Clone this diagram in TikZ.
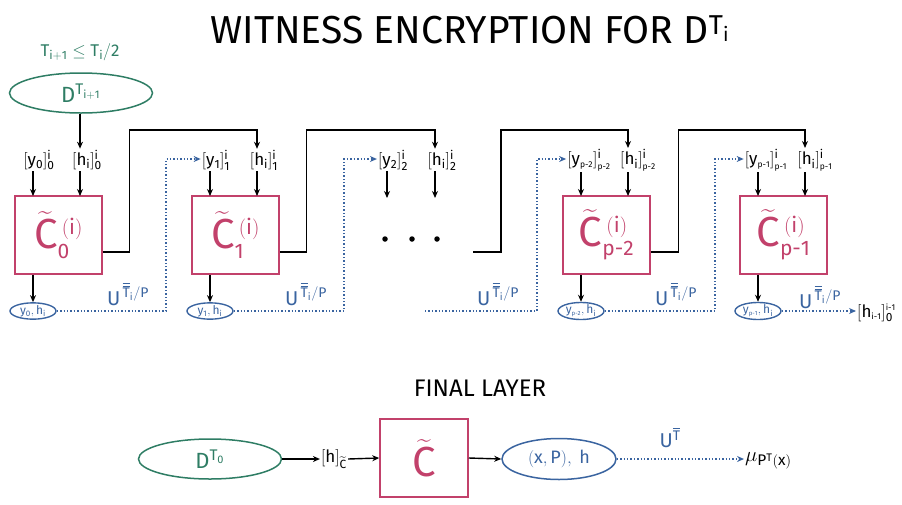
\documentclass[tikz,border=0pt]{standalone}
\usepackage{amsmath}
\usepackage{fontspec}
\setmainfont{Fira Sans}
\setsansfont{Fira Sans}
\usetikzlibrary{arrows.meta,calc,shapes.geometric}
\definecolor{grn}{HTML}{2E7D64}
\definecolor{pnk}{HTML}{C2416B}
\definecolor{blu}{HTML}{3A64A0}
\newcommand{\ms}[1]{\mathsf{#1}}
\newcommand{\sst}{\scriptscriptstyle}
\newcommand{\Ct}[1]{$\widetilde{\ms C}^{\,\sst(\ms i)}_{\sst #1}$}
\newcommand{\Ub}{$\ms U^{\,\overline{\overline{\ms T}}_{\ms i}/\ms P}$}
\begin{document}
\begin{tikzpicture}[x=1pt,y=-1pt,
  arr/.style={draw=black,line width=1.4pt,-{Stealth[length=7pt,width=6pt]}},
  dot/.style={draw=blu,line width=1.4pt,dotted,-{Stealth[length=7pt,width=6pt]}},
  cbox/.style={draw=pnk,line width=1.5pt,minimum width=87pt,minimum height=78pt,inner sep=0pt,text=pnk,font=\fontsize{42}{42}\selectfont},
  oval/.style={draw=blu,ellipse,line width=1.4pt,minimum width=46pt,minimum height=15pt,inner sep=0pt,text=blu,font=\fontsize{12}{12}\selectfont},
  goval/.style={draw=grn,ellipse,line width=1.5pt,minimum width=143pt,minimum height=40pt,inner sep=0pt,text=grn,font=\fontsize{22}{22}\selectfont},
  lbl/.style={font=\fontsize{17}{17}\selectfont,inner sep=1pt},
  ulbl/.style={text=blu,font=\fontsize{20}{20}\selectfont,inner sep=0pt},
  dotn/.style={circle,fill=black,inner sep=0pt,minimum size=5.5pt},
]
\useasboundingbox (0,0) rectangle (902,504);

% title
\node[font=\fontsize{39}{39}\selectfont] (title) at (470,30) {WITNESS ENCRYPTION FOR D$^{\ms{T_i}}$};

% condition and distribution
\node[text=grn,font=\fontsize{17}{17}\selectfont] (cond) at (80,52) {$\ms{T_{i+1}} \le \ms{T_i}/\ms{2}$};
\node[goval] (dT) at (81,93) {$\ms{D}^{\ms{T_{i+1}}}$};

% ---- column 0
\node[cbox] (b0) at (58.5,235) {\Ct{\ms 0}};
\node[lbl] (y0) at (39,160) {$[\ms{y_0}]^{\ms i}_{\ms 0}$};
\node[lbl] (h0) at (87,160) {$[\ms{h_i}]^{\ms i}_{\ms 0}$};
\coordinate (b0a) at (33,196);
\coordinate (b0b) at (80,196);
\node[oval] (e0) at (33,311) {$\ms{y_0},\ms{h_i}$};
\draw[arr] (y0.south -| b0a) -- (b0a);
\draw[arr] (h0.south -| b0b) -- (b0b);
\draw[arr] (dT.south -| b0b) -- (h0.north -| b0b);
\draw[arr] (b0.south -| e0) -- (e0.north);

% ---- column 1
\node[cbox] (b1) at (235.5,235) {\Ct{\ms 1}};
\node[lbl] (y1) at (216,160) {$[\ms{y_1}]^{\ms i}_{\ms 1}$};
\node[lbl] (h1) at (264,160) {$[\ms{h_i}]^{\ms i}_{\ms 1}$};
\coordinate (b1a) at (210,196);
\coordinate (b1b) at (257,196);
\node[oval] (e1) at (210,311) {$\ms{y_1},\ms{h_i}$};
\draw[arr] (y1.south -| b1a) -- (b1a);
\draw[arr] (h1.south -| b1b) -- (b1b);
\draw[arr] (b1.south -| e1) -- (e1.north);

% ---- column 2 (no box)
\node[lbl] (y2) at (393,160) {$[\ms{y_2}]^{\ms i}_{\ms 2}$};
\node[lbl] (h2) at (442,160) {$[\ms{h_i}]^{\ms i}_{\ms 2}$};
\coordinate (b2a) at (387,198);
\coordinate (b2b) at (435,198);
\draw[arr] (y2.south -| b2a) -- (b2a);
\draw[arr] (h2.south -| b2b) -- (b2b);
\node[dotn] (dA) at (385,239) {};
\node[dotn] (dB) at (412,239) {};
\node[dotn] (dC) at (437,239) {};

% ---- column p-2
\node[cbox] (b3) at (606.5,235) {\Ct{\ms{p\text{-}2}}};
\node[lbl] (y3) at (589,160) {$[\ms{y}_{\sst\ms{p\text{-}2}}]^{\ms i}_{\sst\ms{p\text{-}2}}$};
\node[lbl] (h3) at (638,160) {$[\ms{h_i}]^{\ms i}_{\sst\ms{p\text{-}2}}$};
\coordinate (b3a) at (581,196);
\coordinate (b3b) at (628,196);
\node[oval] (e3) at (581,311) {$\ms{y}_{\sst\ms{p\text{-}2}},\ms{h_i}$};
\draw[arr] (y3.south -| b3a) -- (b3a);
\draw[arr] (h3.south -| b3b) -- (b3b);
\draw[arr] (b3.south -| e3) -- (e3.north);

% ---- column p-1
\node[cbox] (b4) at (783.5,235) {\Ct{\ms{p\text{-}1}}};
\node[lbl] (y4) at (766,160) {$[\ms{y}_{\sst\ms{p\text{-}1}}]^{\ms i}_{\sst\ms{p\text{-}1}}$};
\node[lbl] (h4) at (815,160) {$[\ms{h_i}]^{\ms i}_{\sst\ms{p\text{-}1}}$};
\coordinate (b4a) at (758,196);
\coordinate (b4b) at (805,196);
\node[oval] (e4) at (758,311) {$\ms{y}_{\sst\ms{p\text{-}1}},\ms{h_i}$};
\draw[arr] (y4.south -| b4a) -- (b4a);
\draw[arr] (h4.south -| b4b) -- (b4b);
\draw[arr] (b4.south -| e4) -- (e4.north);

\node[lbl,anchor=west] (hout) at (856,313) {$[\ms{h}_{\sst\ms{i\text{-}1}}]^{\sst\ms{i\text{-}1}}_{\ms 0}$};

% black chain connectors
\coordinate (t1) at (257,130);
\coordinate (t2) at (435,130);
\coordinate (t3) at (628,130);
\coordinate (t4) at (805,130);
\coordinate (s3) at (473,252);
\draw[arr] ([yshift=-17pt]b0.east) -- ++(27,0) |- (t1) -- (h1.north -| t1);
\draw[arr] ([yshift=-17pt]b1.east) -- ++(27,0) |- (t2) -- (h2.north -| t2);
\draw[arr] (s3) -- ++(28,0) |- (t3) -- (h3.north -| t3);
\draw[arr] ([yshift=-17pt]b3.east) -- ++(28,0) |- (t4) -- (h4.north -| t4);

% dotted connectors
\coordinate (d1) at (166,159);
\coordinate (d2) at (344,159);
\coordinate (d3) at (537,159);
\coordinate (d4) at (715,159);
\coordinate (s2) at (425,311);
\draw[dot] (e0.east) -- (d1 |- e0.east) -- (d1) -- (y1.west |- d1);
\draw[dot] (e1.east) -- (d2 |- e1.east) -- (d2) -- (y2.west |- d2);
\draw[dot] (s2) -- (d3 |- s2) -- (d3) -- (y3.west |- d3);
\draw[dot] (e3.east) -- (d4 |- e3.east) -- (d4) -- (y4.west |- d4);
\draw[dot] (e4.east) -- (hout.west |- e4.east);

% U labels
\node[ulbl] (u0) at (128,294) {\Ub};
\node[ulbl] (u1) at (306,294) {\Ub};
\node[ulbl] (u2) at (498,294) {\Ub};
\node[ulbl] (u3) at (676,294) {\Ub};
\node[ulbl] (u4) at (820,297) {\Ub};

% ---- final layer
\node[font=\fontsize{24}{24}\selectfont] (fl) at (480,388) {FINAL LAYER};
\node[goval] (dT0) at (210,459) {$\ms{D}^{\ms{T_0}}$};
\node[lbl] (hc) at (334,459) {$[\ms h]_{\widetilde{\ms C}}$};
\node[cbox,minimum width=88pt] (cf) at (424,458) {$\widetilde{\ms C}$};
\node[oval,minimum width=114pt,minimum height=41pt,line width=1.5pt,font=\fontsize{18}{18}\selectfont] (xp) at (559,459) {$(\ms x,\ms P),\ \ms h$};
\node[font=\fontsize{22}{22}\selectfont,inner sep=1pt,anchor=west] (mu) at (744,461) {$\mu_{\ms{P}^{\ms T}(\ms x)}$};
\node[ulbl] (uf) at (670,438) {$\ms U^{\overline{\ms T}}$};
\draw[arr] (dT0.east) -- (hc.west);
\draw[arr] (hc.east) -- (cf.west);
\draw[arr] (cf.east) -- (xp.west);
\draw[dot] (xp.east) -- (mu.west |- xp.east);
\end{tikzpicture}
\end{document}
